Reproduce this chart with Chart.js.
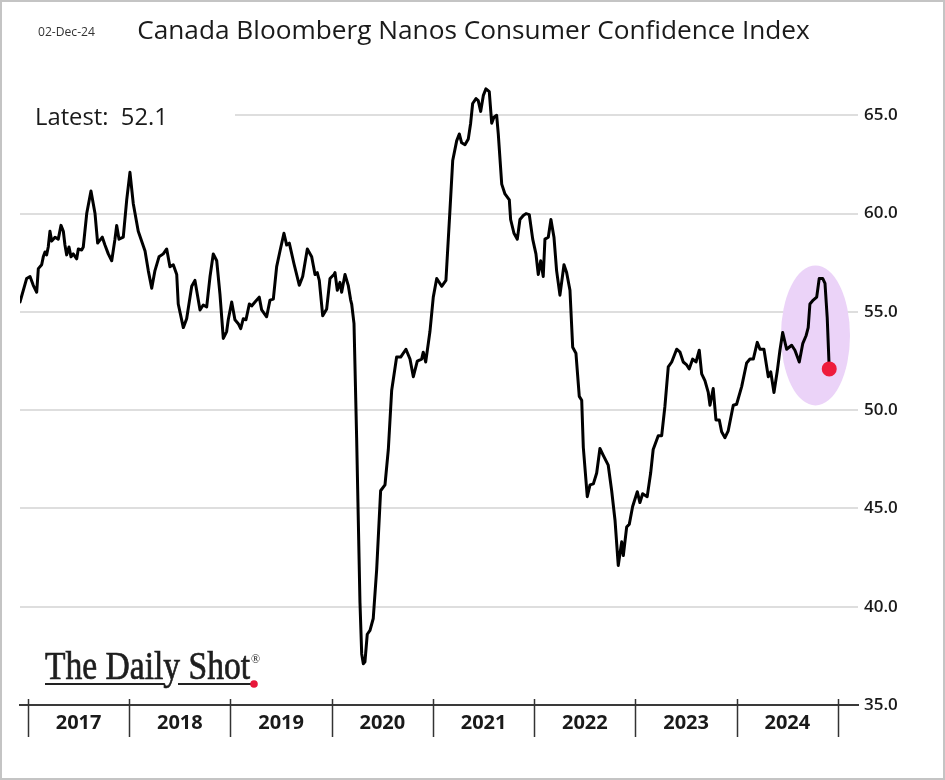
<!DOCTYPE html>
<html><head><meta charset="utf-8">
<script src="https://cdn.jsdelivr.net/npm/chart.js@4"></script>
<style>html,body{margin:0;padding:0;background:#fff}canvas{display:block}</style>
</head><body>
<canvas id="c" width="945" height="780"></canvas>
<script>
// ---- data (decimal year, index value) ----
const dates = [
2016.921,2016.987,2017.020,2017.052,2017.086,2017.102,2017.135,2017.151,2017.168,2017.184,
2017.200,2017.217,2017.234,2017.267,2017.299,2017.326,2017.349,2017.365,2017.382,2017.405,
2017.425,2017.447,2017.481,2017.497,2017.530,2017.546,2017.580,2017.622,2017.662,2017.688,
2017.734,2017.760,2017.793,2017.827,2017.859,2017.876,2017.899,2017.941,2017.975,2018.007,
2018.040,2018.089,2018.156,2018.188,2018.222,2018.254,2018.294,2018.336,2018.370,2018.402,
2018.435,2018.469,2018.484,2018.534,2018.567,2018.617,2018.649,2018.699,2018.731,2018.765,
2018.798,2018.830,2018.864,2018.896,2018.929,2018.962,2018.978,2019.012,2019.044,2019.077,
2019.101,2019.126,2019.153,2019.186,2019.209,2019.242,2019.284,2019.308,2019.357,2019.390,
2019.423,2019.456,2019.489,2019.528,2019.555,2019.581,2019.627,2019.680,2019.713,2019.759,
2019.802,2019.835,2019.857,2019.877,2019.911,2019.950,2019.983,2020.022,2020.032,2020.055,
2020.081,2020.098,2020.131,2020.163,2020.187,2020.197,2020.220,2020.246,2020.279,2020.296,
2020.312,2020.328,2020.351,2020.378,2020.410,2020.444,2020.483,2020.526,2020.559,2020.592,
2020.641,2020.681,2020.733,2020.773,2020.806,2020.845,2020.888,2020.904,2020.928,2020.954,
2020.970,2020.987,2021.003,2021.037,2021.086,2021.128,2021.168,2021.195,2021.234,2021.260,
2021.283,2021.316,2021.349,2021.372,2021.392,2021.425,2021.447,2021.471,2021.497,2021.523,
2021.556,2021.580,2021.602,2021.629,2021.645,2021.679,2021.711,2021.754,2021.767,2021.800,
2021.833,2021.859,2021.892,2021.919,2021.951,2021.985,2022.017,2022.040,2022.064,2022.089,
2022.106,2022.139,2022.165,2022.195,2022.221,2022.254,2022.294,2022.320,2022.353,2022.380,
2022.412,2022.445,2022.469,2022.485,2022.524,2022.551,2022.584,2022.617,2022.649,2022.682,
2022.731,2022.765,2022.798,2022.830,2022.864,2022.880,2022.913,2022.939,2022.972,2023.018,
2023.044,2023.071,2023.116,2023.150,2023.175,2023.225,2023.259,2023.291,2023.324,2023.358,
2023.407,2023.440,2023.472,2023.506,2023.531,2023.565,2023.598,2023.630,2023.654,2023.686,
2023.719,2023.736,2023.768,2023.795,2023.828,2023.851,2023.884,2023.916,2023.966,2023.999,
2024.049,2024.098,2024.131,2024.164,2024.203,2024.230,2024.269,2024.312,2024.336,2024.368,
2024.401,2024.427,2024.454,2024.493,2024.543,2024.575,2024.618,2024.653,2024.686,2024.706,
2024.723,2024.756,2024.790,2024.815,2024.849,2024.872,2024.894,2024.914
];
const values = [
55.5,56.7,56.8,56.35,56.0,57.2,57.4,57.8,58.05,57.9,
58.3,59.1,58.6,58.8,58.7,59.4,59.1,58.4,57.9,58.3,
57.8,57.95,57.7,58.2,58.15,58.3,60.0,61.15,60.0,58.5,
58.8,58.4,57.95,57.6,58.7,59.4,58.7,58.8,60.7,62.1,
60.5,59.1,58.1,57.1,56.2,57.1,57.8,57.95,58.2,57.3,
57.4,56.9,55.4,54.2,54.65,56.3,56.6,55.1,55.35,55.25,
56.8,57.95,57.6,55.9,53.65,54.0,54.6,55.5,54.6,54.4,
54.15,54.65,54.6,55.4,55.3,55.5,55.75,55.1,54.75,55.6,
55.65,57.3,58.1,59.0,58.4,58.5,57.45,56.35,56.8,58.2,
57.8,56.9,57.0,56.6,54.8,55.15,56.7,56.9,57.0,56.1,
56.5,56.0,56.9,56.35,55.6,55.4,54.4,48.6,40.2,37.6,
37.1,37.2,38.6,38.8,39.4,41.9,45.9,46.2,48.0,51.0,
52.7,52.7,53.1,52.6,51.7,52.5,52.6,52.95,52.45,53.4,
54.0,54.9,55.75,56.7,56.3,56.6,60.2,62.7,63.7,64.05,
63.6,63.5,63.8,64.6,65.6,65.85,65.75,65.2,66.0,66.35,
66.2,64.6,64.9,65.0,64.05,61.5,61.0,60.7,59.7,59.0,
58.7,59.7,59.9,60.0,59.95,58.7,57.95,56.9,57.6,56.8,
58.7,58.8,59.7,58.8,57.1,55.85,57.4,57.0,56.1,53.2,
52.9,50.7,50.5,48.1,45.6,46.2,46.25,46.8,48.05,47.7,
47.2,45.9,44.4,42.1,43.3,42.6,44.05,44.2,45.1,45.85,
45.3,45.75,45.6,46.8,48.0,48.7,48.7,50.2,52.2,52.45,
53.1,52.95,52.45,52.3,52.1,52.6,52.45,53.05,51.85,51.5,
50.9,50.25,51.1,49.5,49.5,48.9,48.6,48.95,50.25,50.3,
51.2,52.4,52.6,52.6,53.45,53.1,53.1,51.7,51.95,50.9,
52.0,53.05,53.95,53.1,53.3,53.05,52.45,53.4,53.8,54.2,
55.4,55.6,55.75,56.7,56.7,56.45,54.7,52.1
];
const years = ['2017','2018','2019','2020','2021','2022','2023','2024'];
const yTickValues = [35, 40, 45, 50, 55, 60, 65];
const titleText = 'Canada Bloomberg Nanos Consumer Confidence Index';
const dateText = '02-Dec-24';
const latestText = 'Latest:  52.1';
const logoText = 'The Daily Shot';
// highlight ellipse (data units): centre year, centre value, half-width years, half-height value
const highlight = {x: 2024.778, y: 53.8, rx: 0.341, ry: 3.56};

const SANS = '"Open Sans", "Noto Sans", sans-serif';

function fitSize(ctx, text, family, weight, targetW) {
  ctx.font = `${weight} 100px ${family}`;
  return 100 * targetW / ctx.measureText(text).width;
}

const deco = {
  id: 'deco',
  beforeDraw(chart) {
    const ctx = chart.ctx;
    ctx.save();
    ctx.fillStyle = '#fff';
    ctx.fillRect(0, 0, chart.width, chart.height);
    ctx.restore();
  },
  beforeDatasetsDraw(chart) {
    const ctx = chart.ctx, xs = chart.scales.x, ys = chart.scales.y;
    ctx.save();
    // white box behind "Latest" label hides the left part of the top gridline
    ctx.fillStyle = '#fff';
    ctx.fillRect(chart.chartArea.left, ys.getPixelForValue(65) - 12, 215, 24);
    // highlight ellipse
    const cx = xs.getPixelForValue(highlight.x);
    const cy = ys.getPixelForValue(highlight.y);
    const rx = xs.getPixelForValue(highlight.x + highlight.rx) - cx;
    const ry = cy - ys.getPixelForValue(highlight.y + highlight.ry);
    ctx.fillStyle = '#ebd3f8';
    ctx.beginPath();
    ctx.ellipse(cx, cy, rx, ry, 0, 0, Math.PI * 2);
    ctx.fill();
    ctx.restore();
  },
  afterDraw(chart) {
    const ctx = chart.ctx, xs = chart.scales.x;
    ctx.save();
    // year separators
    ctx.strokeStyle = '#333';
    ctx.lineWidth = 1.5;
    const y0 = xs.top;
    for (let i = 0; i <= years.length; i++) {
      const px = Math.round(xs.getPixelForValue(Number(years[0]) + i)) + 0.5;
      ctx.beginPath();
      ctx.moveTo(px, y0 - 6);
      ctx.lineTo(px, y0 + 32);
      ctx.stroke();
    }
    ctx.fillStyle = '#1a1a1a';
    ctx.textBaseline = 'alphabetic';
    // title
    let s = fitSize(ctx, titleText, SANS, 'normal', 673);
    ctx.font = `normal ${s}px ${SANS}`;
    ctx.textAlign = 'center';
    ctx.fillText(titleText, 473.5, 39);
    // date
    s = fitSize(ctx, dateText, SANS, 'normal', 57);
    ctx.font = `normal ${s}px ${SANS}`;
    ctx.textAlign = 'left';
    ctx.fillStyle = '#333';
    ctx.fillText(dateText, 38, 36);
    // latest
    s = fitSize(ctx, latestText, SANS, 'normal', 133);
    ctx.font = `normal ${s}px ${SANS}`;
    ctx.fillStyle = '#1a1a1a';
    ctx.fillText(latestText, 35, 125);
    // logo
    ctx.save();
    ctx.font = `normal 40px "Liberation Serif", "DejaVu Serif", serif`;
    const lw = ctx.measureText(logoText).width;
    ctx.translate(45, 679);
    ctx.scale(205 / lw, 1);
    ctx.fillStyle = '#1e1e1e';
    ctx.strokeStyle = '#1e1e1e';
    ctx.lineWidth = 0.7;
    ctx.fillText(logoText, 0, 0);
    ctx.strokeText(logoText, 0, 0);
    ctx.restore();
    ctx.font = `normal 12px "Liberation Serif", serif`;
    ctx.fillStyle = '#222';
    ctx.fillText('®', 251, 663);
    ctx.strokeStyle = '#222';
    ctx.lineWidth = 2;
    ctx.beginPath();
    ctx.moveTo(45, 684); ctx.lineTo(164, 684);
    ctx.moveTo(178, 684); ctx.lineTo(252, 684);
    ctx.stroke();
    ctx.fillStyle = '#e8173a';
    ctx.beginPath();
    ctx.arc(254, 684, 3.8, 0, Math.PI * 2);
    ctx.fill();
    // outer border
    ctx.strokeStyle = '#c4c4c4';
    ctx.lineWidth = 2;
    ctx.strokeRect(1, 1, chart.width - 2, chart.height - 2);
    ctx.restore();
  }
};

const lastIdx = values.length - 1;

new Chart(document.getElementById('c'), {
  type: 'line',
  data: {
    datasets: [{
      data: dates.map((d, i) => ({x: d, y: values[i]})),
      borderColor: '#000',
      borderWidth: 3,
      tension: 0,
      pointRadius: ctx => ctx.dataIndex === lastIdx ? 6 : 0,
      pointHoverRadius: 0,
      pointBackgroundColor: '#ee1c3c',
      pointBorderColor: '#ee1c3c',
      borderJoinStyle: 'round',
      borderCapStyle: 'round'
    }]
  },
  options: {
    responsive: false,
    animation: false,
    devicePixelRatio: 1,
    layout: {padding: {left: 20, top: 76, right: 0, bottom: 0}},
    plugins: {legend: {display: false}, tooltip: {enabled: false}, title: {display: false}},
    scales: {
      x: {
        type: 'linear',
        min: 2016.921,
        max: 2025.198,
        afterBuildTicks(scale) {
          const t = [];
          const y0 = Number(years[0]);
          for (let i = 0; i <= years.length * 2; i++) t.push({value: y0 + i / 2});
          scale.ticks = t;
        },
        afterFit(scale) { scale.height = 75; },
        grid: {display: false, drawTicks: false},
        border: {display: true, color: '#3a3a3a', width: 2},
        ticks: {
          autoSkip: false,
          maxRotation: 0,
          minRotation: 0,
          padding: 6,
          color: '#1a1a1a',
          font: {family: SANS, size: 20, weight: 'bold'},
          callback(v) {
            const k = v - Number(years[0]) - 0.5;
            return Math.abs(k - Math.round(k)) < 1e-6 ? years[Math.round(k)] : '';
          }
        }
      },
      y: {
        position: 'right',
        min: 35,
        max: 67,
        afterBuildTicks(scale) { scale.ticks = yTickValues.map(v => ({value: v})); },
        afterFit(scale) { scale.width = 87; },
        grid: {color: '#dedede', lineWidth: 2, drawTicks: false},
        border: {display: false},
        ticks: {
          padding: 6,
          color: '#1a1a1a',
          font: {family: SANS, size: 17, weight: '600'},
          callback: v => Number(v).toFixed(1)
        }
      }
    }
  },
  plugins: [deco]
});
</script>
</body></html>
